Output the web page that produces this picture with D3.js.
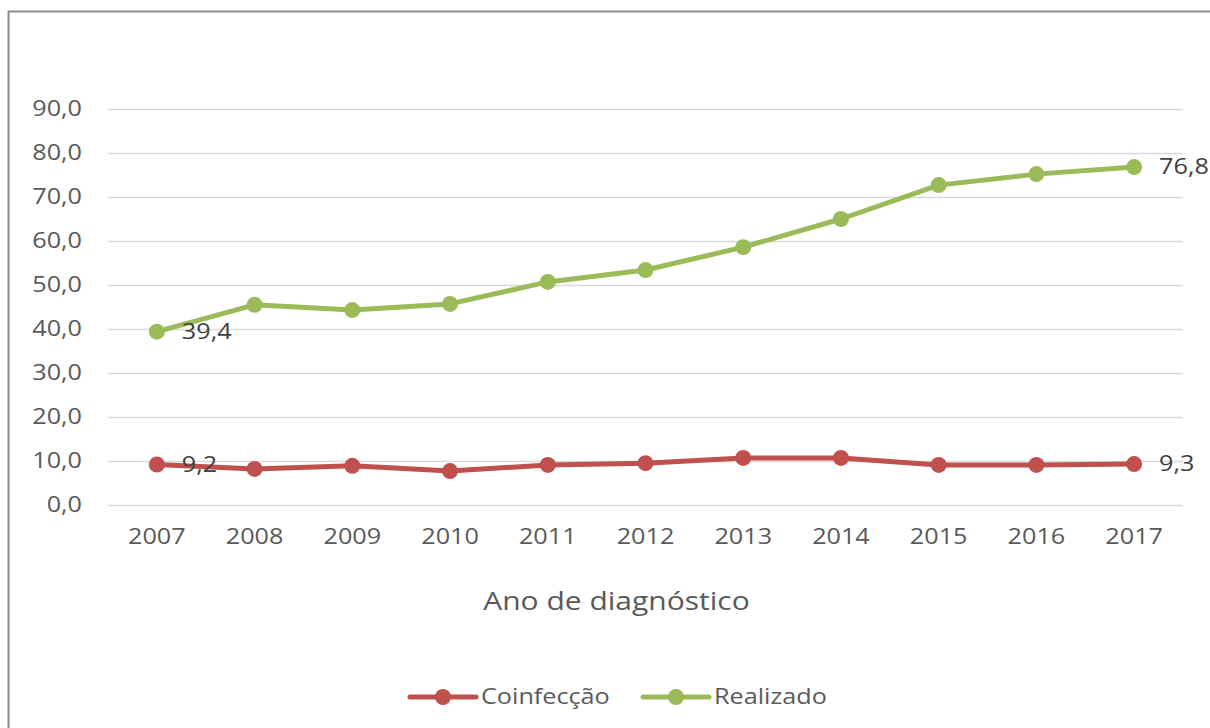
<!DOCTYPE html>
<html>
<head>
<meta charset="utf-8">
<script src="https://cdn.jsdelivr.net/npm/d3@7"></script>
<style>
	body { margin: 0; background: #fff; }
	svg { display: block; font-family: 'Open Sans', sans-serif; }
</style>
</head>
<body>
<div id="chart"></div>
<script>
const YEARS = ['2007', '2008', '2009', '2010', '2011', '2012', '2013', '2014', '2015', '2016', '2017'];
const COINFECCAO = [9.2, 8.2, 8.9, 7.7, 9.1, 9.5, 10.7, 10.7, 9.1, 9.1, 9.3];
const REALIZADO = [39.4, 45.5, 44.3, 45.7, 50.7, 53.4, 58.6, 65.0, 72.7, 75.2, 76.8];
const Y_TICKS = [0, 10, 20, 30, 40, 50, 60, 70, 80, 90];

const WIDTH = 1210;
const HEIGHT = 728;
const TEXT_STRETCH = 1.2; // the source picture is a bit wider than it is tall
const margin = { top: 109, right: 27, bottom: 223, left: 108 };
const width = WIDTH - margin.left - margin.right;
const height = HEIGHT - margin.top - margin.bottom;

const series = [
	{ name: 'Coinfecção', values: COINFECCAO, color: '#C0504D' },
	{ name: 'Realizado', values: REALIZADO, color: '#9BBB59' }
];

const fmt = v => v.toFixed(1).replace('.', ',');

const svg = d3.select('#chart')
	.append('svg')
	.attr('width', WIDTH)
	.attr('height', HEIGHT);

// Frame (only left and top edges are visible in the picture)
svg.append('path')
	.attr('d', 'M8.5,' + HEIGHT + 'V11.5H' + WIDTH)
	.attr('fill', 'none')
	.attr('stroke', '#8c8c8c')
	.attr('stroke-width', 2);

const g = svg.append('g')
	.attr('transform', 'translate(' + margin.left + ',' + margin.top + ')');

const x = d3.scaleBand()
	.domain(YEARS)
	.range([0, width]);

const y = d3.scaleLinear()
	.domain([0, 90])
	.range([height, 0]);

// Gridlines + y labels
const yAxis = g.append('g')
	.call(d3.axisLeft(y).tickValues(Y_TICKS).tickSize(-width).tickFormat(fmt).tickPadding(26));
yAxis.select('.domain').remove();
yAxis.selectAll('line').attr('stroke', '#d9d9d9').attr('stroke-width', 1.5);
yAxis.selectAll('text').attr('fill', '#595959').style('font-size', '21px').style('font-family', 'Open Sans');

// x labels
const xAxis = g.append('g')
	.attr('transform', 'translate(0,' + height + ')')
	.call(d3.axisBottom(x).tickSize(0).tickPadding(24));
xAxis.select('.domain').remove();
xAxis.selectAll('text').attr('fill', '#595959').style('font-size', '21px').style('font-family', 'Open Sans');

// Axis title
g.append('text')
	.attr('x', width / 2 - 29)
	.attr('y', height + 105)
	.attr('text-anchor', 'middle')
	.attr('fill', '#595959')
	.style('font-size', '25px')
	.text('Ano de diagnóstico');

const line = d3.line()
	.x((d, i) => x(YEARS[i]) + x.bandwidth() / 2)
	.y(d => y(d));

series.forEach(s => {
	g.append('path')
		.datum(s.values)
		.attr('d', line)
		.attr('fill', 'none')
		.attr('stroke', s.color)
		.attr('stroke-width', 5)
		.attr('stroke-linejoin', 'round')
		.attr('stroke-linecap', 'round');

	g.selectAll(null)
		.data(s.values)
		.enter()
		.append('circle')
		.attr('cx', (d, i) => x(YEARS[i]) + x.bandwidth() / 2)
		.attr('cy', d => y(d))
		.attr('r', 8)
		.attr('fill', s.color);

	// labels on first and last points
	[0, s.values.length - 1].forEach(i => {
		g.append('text')
			.attr('x', x(YEARS[i]) + x.bandwidth() / 2 + 25)
			.attr('y', y(s.values[i]))
			.attr('dy', '0.35em')
			.attr('fill', '#404040')
			.style('font-size', '21px')
			.text(fmt(s.values[i]));
	});
});

// Legend
const legend = svg.append('g')
	.attr('transform', 'translate(0,697)');

const legendItems = [
	{ s: series[0], x0: 410 },
	{ s: series[1], x0: 643 }
];

legendItems.forEach(item => {
	legend.append('line')
		.attr('x1', item.x0)
		.attr('x2', item.x0 + 66)
		.attr('stroke', item.s.color)
		.attr('stroke-width', 5)
		.attr('stroke-linecap', 'round');
	legend.append('circle')
		.attr('cx', item.x0 + 33)
		.attr('r', 8)
		.attr('fill', item.s.color);
	legend.append('text')
		.attr('x', item.x0 + 71)
		.attr('dy', '0.35em')
		.attr('fill', '#595959')
		.style('font-size', '21px')
		.text(item.s.name);
});

// widen every text a little, like the source image
svg.selectAll('text').each(function () {
	const len = this.getComputedTextLength();
	d3.select(this)
		.attr('textLength', len * TEXT_STRETCH)
		.attr('lengthAdjust', 'spacingAndGlyphs');
});
</script>
</body>
</html>
